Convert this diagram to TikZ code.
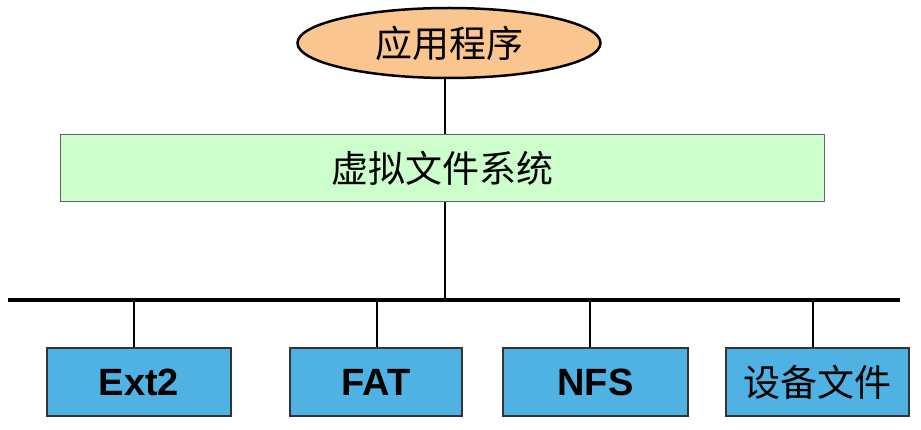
\documentclass[tikz,border=0pt]{standalone}
\usepackage{fontspec}
\setmainfont{Liberation Sans}
\newfontfamily\cjk{Noto Sans CJK SC}
\usetikzlibrary{shapes.geometric,positioning}
\definecolor{appfill}{RGB}{251,197,143}
\definecolor{vfsfill}{RGB}{204,255,204}
\definecolor{fsfill}{RGB}{79,178,227}
\tikzset{
	appnode/.style={
			ellipse, draw, line width=2.5pt, fill=appfill,
			minimum width=303pt, minimum height=70pt, inner sep=0pt,
			font=\cjk\fontsize{37}{40}\selectfont
		},
	vfsnode/.style={
			rectangle, draw=black!60, line width=1pt, fill=vfsfill,
			minimum width=764pt, minimum height=67pt, inner sep=0pt,
			font=\cjk\fontsize{37}{40}\selectfont
		},
	fsnode/.style={
			rectangle, draw=black!80, line width=1.2pt, fill=fsfill,
			minimum height=68pt, inner sep=0pt,
			font=\bfseries\fontsize{38}{40}\selectfont
		},
	link/.style={line width=2.5pt}
}

\begin{document}
\begin{tikzpicture}[x=1pt,y=1pt]
        \useasboundingbox (0,0) rectangle (921,429);

        % Application and virtual file system
        \node[appnode] (app) at (449,386) {应用程序};
        \node[vfsnode] (vfs) at (442,260.5) {虚拟文件系统};

        % Bus
        \coordinate (busL) at (8,129);
        \coordinate (busR) at (900,129);
        \draw[line width=4.5pt] (busL) -- (busR);

        % File systems
        \node[fsnode, minimum width=184pt] (ext) at (139,47) {Ext2};
        \node[fsnode, minimum width=172pt] (fat) at (376,47) {FAT};
        \node[fsnode, minimum width=185pt] (nfs) at (595.5,47) {NFS};
        \node[fsnode, minimum width=183pt, font=\cjk\fontsize{37}{40}\selectfont] (dev) at (817.5,47) {设备文件};

        % Links
        \coordinate (mid) at (445,0);
        \draw[link] (mid |- app.south) -- (mid |- vfs.north);
        \draw[link] (mid |- vfs.south) -- (mid |- busL);
        \foreach \fs/\dx in {ext/-5, fat/1, nfs/-5.5, dev/-4.5} {
            \draw[link] ([xshift=\dx pt]\fs.north) -- ([xshift=\dx pt]\fs.north |- busL);
        }

    \end{tikzpicture}
\end{document}
